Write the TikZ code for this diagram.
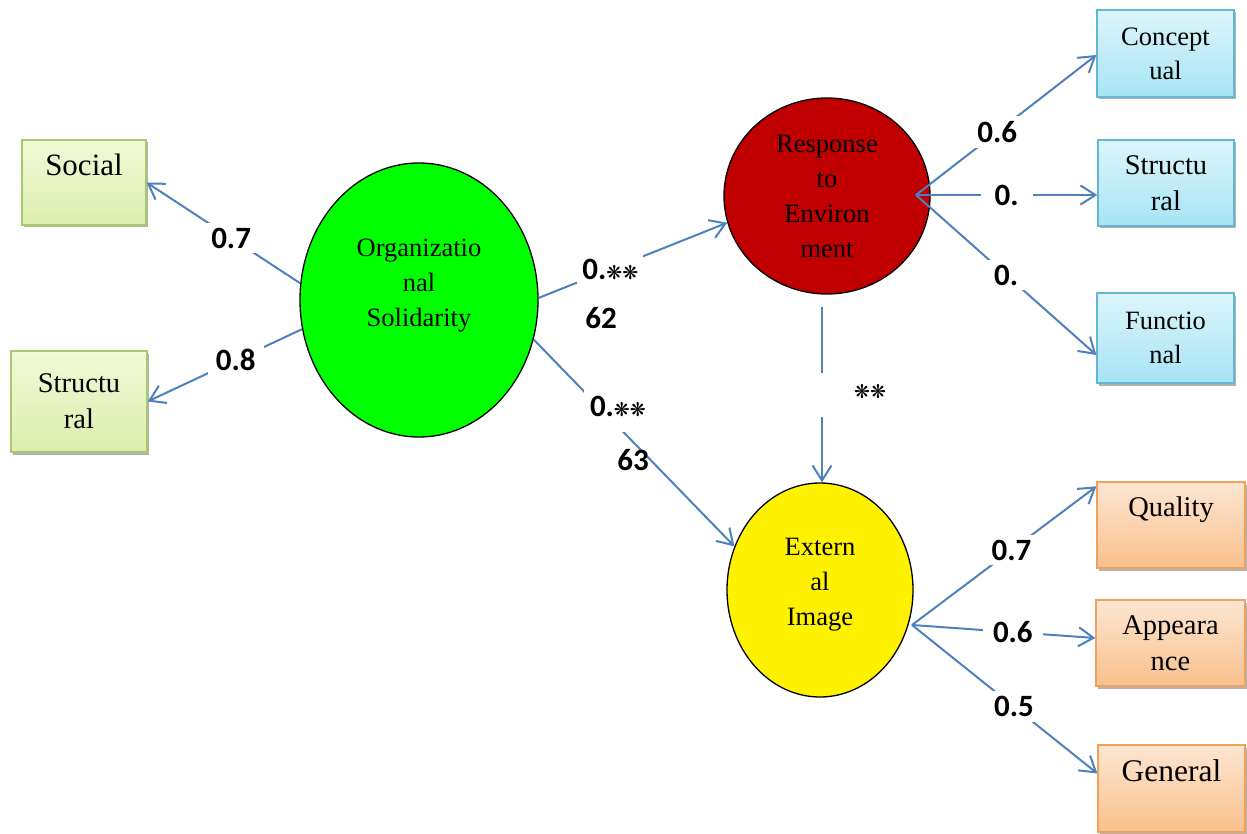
\documentclass[tikz,border=0pt]{standalone}
\usepackage{fontspec}
\setmainfont{Liberation Serif}
\newfontfamily\calibri{Carlito}
\newfontfamily\djv{DejaVu Sans}
\usetikzlibrary{shapes.geometric,arrows.meta,shadows,calc}
\definecolor{arrowblue}{HTML}{4F81BD}
\definecolor{gtop}{HTML}{F2F9D6}
\definecolor{gbot}{HTML}{DCEEAE}
\definecolor{gbord}{HTML}{A9C96E}
\definecolor{btop}{HTML}{DDF5FC}
\definecolor{bbot}{HTML}{A6E4F4}
\definecolor{bbord}{HTML}{62B8D0}
\definecolor{otop}{HTML}{FDE6D2}
\definecolor{obot}{HTML}{F9C08C}
\definecolor{obord}{HTML}{EFA25E}
\definecolor{redfill}{HTML}{C00000}
\newcommand{\stars}{{\djv\fontsize{19}{19}\selectfont ❋❋}}
\begin{document}
\begin{tikzpicture}[x=1pt,y=-1pt,
  box/.style={rectangle, inner sep=0pt, align=center, line width=1.3pt,
    font=\fontsize{28.5}{36}\selectfont,
    drop shadow={shadow xshift=1.5pt, shadow yshift=-2.5pt, opacity=0.3, fill=black}},
  greenbox/.style={box, draw=gbord, top color=gtop, bottom color=gbot},
  bluebox/.style={box, draw=bbord, top color=btop, bottom color=bbot},
  orangebox/.style={box, draw=obord, top color=otop, bottom color=obot},
  latent/.style={ellipse, draw=black, line width=1.3pt, inner sep=0pt, align=center,
    font=\fontsize{26.5}{35}\selectfont},
  conn/.style={draw=arrowblue, line width=2pt},
  arr/.style={conn, -{Straight Barb[length=15pt,width=19pt,line width=2pt]}},
  coef/.style={font=\calibri\bfseries\fontsize{31}{32}\selectfont, fill=white, inner xsep=8pt, inner ysep=5pt},
  plain/.style={font=\calibri\bfseries\fontsize{31}{32}\selectfont, inner sep=0pt},
]
\useasboundingbox (0,0) rectangle (1247,834);
\fill[white] (0,0) rectangle (1247,834);

% observed boxes
\node[greenbox, minimum width=124pt, minimum height=85pt, font=\fontsize{31}{36}\selectfont] (Social) at (84,182.5) {Social\\\mbox{}};
\node[greenbox, minimum width=136pt, minimum height=101pt] (StrL) at (79,401.5) {Structu\\ral};
\node[bluebox, minimum width=137pt, minimum height=87pt, font=\fontsize{26.6}{34}\selectfont] (Concept) at (1165.5,53.5) {Concept\\ual};
\node[bluebox, minimum width=136pt, minimum height=86pt] (StrR) at (1166,183) {Structu\\ral};
\node[bluebox, minimum width=137pt, minimum height=90pt, font=\fontsize{26.4}{34}\selectfont] (Func) at (1165.5,338) {Functio\\nal};
\node[orangebox, minimum width=148pt, minimum height=86pt] (Quality) at (1171,525) {Quality\\\mbox{}};
\node[orangebox, minimum width=149pt, minimum height=86pt] (Appear) at (1170.5,643) {Appeara\\nce};
\node[orangebox, minimum width=147pt, minimum height=87pt, font=\fontsize{31.5}{36}\selectfont] (General) at (1171.5,788.5) {General\\\mbox{}};

% latent variables
\node[latent, fill=green, minimum width=238pt, minimum height=274pt] (OS) at (419,300) {Organizatio\\nal\\Solidarity\\\mbox{}};
\node[latent, fill=redfill, minimum width=206pt, minimum height=196pt] (RE) at (827,196) {Response\\to\\Environ\\ment};
\node[latent, fill=yellow, minimum width=186pt, minimum height=214pt] (EI) at (820,590) {Extern\\al\\Image\\[-19pt]\mbox{}};

% connectors from Organizational Solidarity
\draw[arr] (OS.172) -- node[coef, pos=0.45] {0.7} (Social.east);
\draw[arr] (OS.194) -- node[coef, pos=0.43] {0.8} (StrL.east);
\draw[arr] (OS.1) -- node[coef, pos=0.38, inner xsep=5pt] {0.\stars} (RE.195);
\node[plain] (l62) at (601,318) {62};
\draw[arr] (OS.-19) -- node[coef, pos=0.38, xshift=8pt, yshift=12pt, inner xsep=6pt, inner ysep=16pt] {0.\stars} (EI.153);
\node[plain] (l63) at (633,460) {63};

% Response to Environment -> External Image
\coordinate (v1) at (822,307);
\coordinate (v2) at (822,373);
\coordinate (v3) at (822,417);
\draw[conn] (v1) -- (v2);
\draw[arr] (v3) -- (v3 |- EI.north);
\node[plain] (lst) at (870,392) {\stars};

% Response to Environment indicators
\coordinate (REo) at (916,195);
\draw[arr] (REo) -- node[coef, pos=0.45] {0.6} ($(Concept.west)+(0,1.5)$);
\draw[arr] (REo) -- node[coef, pos=0.5, inner xsep=14pt] {0.} (REo -| StrR.west);
\draw[arr] (REo) -- node[coef, pos=0.5, inner xsep=14pt] {0.} ($(Func.west)+(0,17)$);

% External Image indicators
\coordinate (EIo) at (912,625);
\draw[arr] (EIo) -- node[coef, pos=0.54] {0.7} ($(Quality.north west)+(0,5)$);
\draw[arr] (EIo) -- node[coef, pos=0.55, inner xsep=10pt] {0.6} ($(Appear.west)+(0,-5)$);
\draw[arr] (EIo) -- node[coef, pos=0.55] {0.5} ($(General.west)+(0,-15)$);
\end{tikzpicture}
\end{document}
